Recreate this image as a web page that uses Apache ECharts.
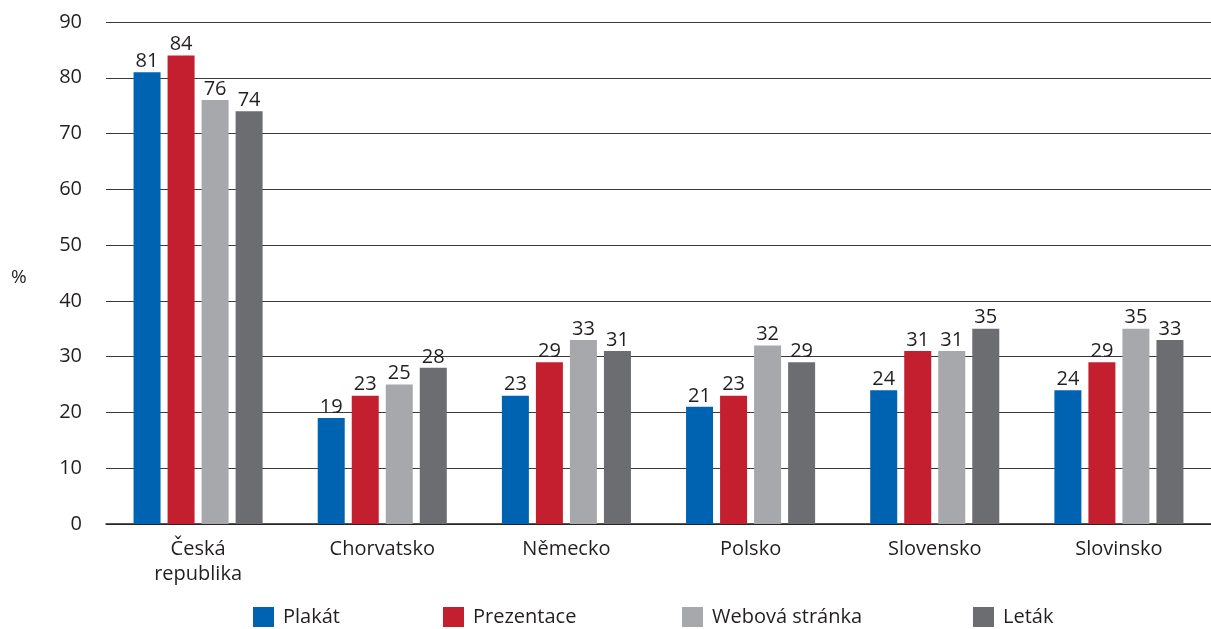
<!DOCTYPE html>
<html><head><meta charset="utf-8">
<script src="https://cdn.jsdelivr.net/npm/echarts@6/dist/echarts.min.js"></script>
<style>html,body{margin:0;padding:0;background:#fff}#c{width:1211px;height:629px}</style>
</head><body><div id="c"></div>
<script>
const categories = ['Česká\nrepublika', 'Chorvatsko', 'Německo', 'Polsko', 'Slovensko', 'Slovinsko'];
const seriesNames = ['Plakát', 'Prezentace', 'Webová stránka', 'Leták'];
const plakat = [81, 19, 23, 21, 24, 24];
const prezentace = [84, 23, 29, 23, 31, 29];
const webova = [76, 25, 33, 32, 31, 35];
const letak = [74, 28, 31, 29, 35, 33];
const yTicks = {min: 0, max: 90, interval: 10};
const colors = ['#0063b1', '#c41f2e', '#a7a8ab', '#6c6d71'];
const font = 'Open Sans';
const textColor = '#231f20';
const values = [plakat, prezentace, webova, letak];
const legendLefts = [253, 443, 682, 973];

const chart = echarts.init(document.getElementById('c'));
chart.setOption({
  animation: false,
  color: colors,
  textStyle: {fontFamily: font, color: textColor},
  grid: {left: 106, right: 0, top: 22, bottom: 105},
  legend: seriesNames.map((n, i) => ({
    data: [n], left: legendLefts[i], top: 607, icon: 'rect', itemWidth: 21, itemHeight: 20,
    itemGap: 0, padding: 0, textStyle: {fontFamily: font, fontSize: 20, color: textColor, padding: [0, 0, 0, 4]}
  })),
  graphic: [{type: 'text', left: 11, top: 268, style: {text: '%', font: '19px "Open Sans"', fill: textColor}}],
  xAxis: {
    type: 'category', data: categories,
    axisLine: {lineStyle: {color: '#231f20', width: 1.5}},
    axisTick: {show: false},
    axisLabel: {fontFamily: font, fontSize: 20, color: textColor, margin: 13, lineHeight: 25}
  },
  yAxis: {
    type: 'value', min: yTicks.min, max: yTicks.max, interval: yTicks.interval,
    axisLine: {show: false}, axisTick: {show: false},
    splitLine: {lineStyle: {color: '#3a3a3a', width: 1.2}},
    axisLabel: {fontFamily: font, fontSize: 20, color: textColor, margin: 24}
  },
  series: seriesNames.map((n, i) => ({
    name: n, type: 'bar', data: values[i], barWidth: 27, barGap: '26%',
    label: {show: true, position: 'top', distance: 1, fontFamily: font, fontSize: 20, color: textColor}
  }))
});
</script></body></html>
